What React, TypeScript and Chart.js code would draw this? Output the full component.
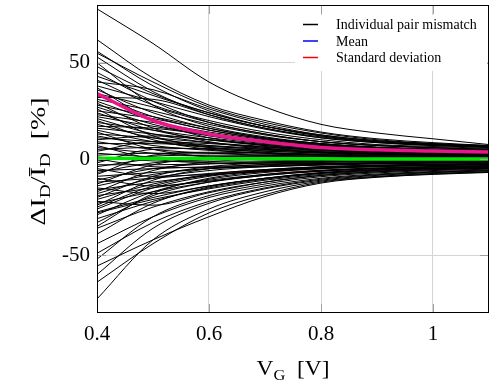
import React, { useEffect, useRef } from 'react';
import { Chart, registerables } from 'chart.js';

Chart.register(...registerables);

// Gate voltage sample points (V)
const xValues = [0.4, 0.5, 0.6, 0.7, 0.8, 0.9, 1.0, 1.1];

// Individual pair mismatch curves (% values at xValues)
const pairCurves: number[][] = [
  [78, 60, 40, 27, 18, 13.5, 10.5, 7.5],
  [62, 42, 28, 20, 14, 10.5, 8.5, 7],
  [56, 38, 25, 17, 12, 9, 7.5, 6.5],
  [55, 40, 27, 19, 13.5, 10, 8, 7],
  [53, 35, 23, 16, 11, 8.5, 7, 6],
  [50, 28, 17, 11.5, 8, 6, 5, 4.3],
  [48, 34, 24, 17, 12.5, 9.5, 8, 6.8],
  [45, 30, 19, 13, 9, 7, 5.8, 5],
  [43, 33, 24, 17, 12, 9, 7.5, 6.5],
  [41, 28, 20, 14, 10, 7.5, 6.5, 5.5],
  [40, 36, 26, 18, 12.5, 9.5, 7.8, 6.6],
  [38, 30, 22, 15.5, 11, 8.5, 7, 6],
  [37, 20, 11, 7, 4.8, 3.6, 3, 2.6],
  [36, 24, 16, 11, 8, 6, 5, 4.5],
  [34, 27, 19, 13, 9, 7, 6, 5],
  [33, 22, 15, 10.5, 7.5, 6, 5, 4.2],
  [32, 31, 23, 16, 11.5, 8.8, 7.3, 6.3],
  [31, 25, 18, 12.5, 9, 7, 5.8, 5],
  [30, 20, 13, 9, 6.5, 5, 4.3, 3.8],
  [29, 16, 9, 5.5, 3.5, 2.5, 2, 1.7],
  [28, 22, 16, 11, 8, 6.2, 5.2, 4.5],
  [27, 18, 12, 8.5, 6, 4.8, 4, 3.5],
  [26, 12, 6, 3.5, 2.2, 1.6, 1.3, 1.1],
  [25, 21, 15, 10.5, 7.5, 6, 5, 4.4],
  [24, 15, 10, 7, 5, 4, 3.4, 3],
  [23, 19, 14, 10, 7, 5.5, 4.6, 4],
  [22, 17, 12.5, 9, 6.5, 5.2, 4.5, 4],
  [21, 13, 8.5, 6, 4.5, 3.6, 3, 2.7],
  [20, 10, 5, 3, 2, 1.5, 1.2, 1],
  [19, 15, 11, 8, 6, 4.8, 4.2, 3.7],
  [18, 11, 7, 5, 3.5, 2.8, 2.4, 2.1],
  [17, 16, 12.5, 9.5, 7, 5.6, 4.8, 4.2],
  [16, 13, 10, 7.5, 5.5, 4.5, 3.8, 3.4],
  [15, 9, 6, 4.2, 3, 2.4, 2, 1.8],
  [14, 5, 1, -0.5, -1, -1.1, -1.1, -1],
  [13, 11, 8.5, 6.5, 5, 4, 3.5, 3.1],
  [12, 7, 4.5, 3, 2.2, 1.7, 1.4, 1.2],
  [11, 9, 7, 5.5, 4.2, 3.5, 3, 2.7],
  [10, 12, 10, 7.5, 5.5, 4.4, 3.8, 3.3],
  [9, 5, 3, 2, 1.5, 1.2, 1, 0.9],
  [8, 8, 6.5, 5, 3.8, 3.2, 2.8, 2.5],
  [7, 0, -2, -2.5, -2.3, -2, -1.8, -1.6],
  [6, 3, 1.5, 0.8, 0.5, 0.4, 0.3, 0.3],
  [5, 6, 5, 4, 3.2, 2.6, 2.2, 2],
  [4, 9, 8, 6.2, 4.7, 3.8, 3.2, 2.8],
  [3, 1, 0, -0.5, -0.6, -0.6, -0.6, -0.5],
  [2, 3, 3, 2.5, 2, 1.6, 1.4, 1.2],
  [1, -1, -1.5, -1.5, -1.3, -1.1, -1, -0.9],
  [0, -4, -4.5, -4, -3.2, -2.6, -2.2, -2],
  [-1, 1.5, 2, 1.8, 1.5, 1.2, 1, 0.9],
  [-2, 5, 5.5, 4.6, 3.6, 2.9, 2.5, 2.2],
  [-3, -3, -2.5, -2, -1.6, -1.3, -1.1, -1],
  [-4, 0, 1, 1, 0.8, 0.7, 0.6, 0.5],
  [-5, -9, -8, -6.5, -5, -4, -3.4, -3],
  [-6, -5, -4, -3, -2.3, -1.9, -1.6, -1.4],
  [-7, -2, -0.5, 0, 0, 0, 0, 0],
  [-8, 2, 3.5, 3.2, 2.6, 2.1, 1.8, 1.6],
  [-9, -7, -5, -3.8, -2.8, -2.2, -1.9, -1.7],
  [-10, -14, -11.5, -8.5, -6.4, -5.1, -4.3, -3.8],
  [-11, -5, -2.5, -1.5, -1, -0.8, -0.7, -0.6],
  [-12, -10, -7.5, -5.5, -4, -3.2, -2.7, -2.4],
  [-13, -3, 0.5, 1.2, 1.2, 1, 0.9, 0.8],
  [-14, -8, -5, -3.5, -2.6, -2, -1.8, -1.6],
  [-15, -18, -14, -10, -7.4, -5.8, -4.9, -4.3],
  [-16, -12, -8.5, -6, -4.5, -3.6, -3, -2.7],
  [-17, -6, -1.5, 0, 0.4, 0.4, 0.4, 0.3],
  [-18, -10, -6, -4, -3, -2.4, -2, -1.8],
  [-19, -15, -11, -8, -6, -4.8, -4, -3.5],
  [-20, -9, -4, -2, -1.2, -0.9, -0.7, -0.6],
  [-21, -13, -8, -5.5, -4, -3.2, -2.7, -2.4],
  [-22, -24, -17.5, -12, -8.6, -6.7, -5.6, -4.9],
  [-23, -17, -12, -8.5, -6.2, -5, -4.2, -3.7],
  [-24, -11, -5, -2.8, -1.8, -1.3, -1.1, -1],
  [-25, -14, -8.5, -6, -4.4, -3.5, -3, -2.6],
  [-26, -15, -9, -6, -4.4, -3.5, -3, -2.6],
  [-27.5, -20, -14, -10, -7.2, -5.6, -4.8, -4.2],
  [-28, -21, -15.5, -11, -8, -6.2, -5.2, -4.6],
  [-29, -17, -10.5, -7, -5, -4, -3.4, -3],
  [-31, -22, -15, -10.5, -7.5, -5.8, -4.9, -4.3],
  [-33, -19, -12, -8, -5.8, -4.6, -3.9, -3.4],
  [-35, -18, -10, -6.5, -4.6, -3.6, -3.1, -2.7],
  [-36, -25, -17, -12, -8.5, -6.6, -5.5, -4.8],
  [-39, -23, -14.5, -10, -7, -5.5, -4.7, -4.1],
  [-44, -30, -20, -14, -10, -7.8, -6.5, -5.7],
  [-49, -33, -22, -15, -10.5, -8.2, -6.8, -6],
  [-52, -30, -19, -13, -9.2, -7.2, -6, -5.3],
  [-55.6, -42, -30, -19.5, -12.5, -9.5, -8, -7],
  [-60, -36, -23, -15.5, -11, -8.5, -7.1, -6.2],
  [-64, -44, -28, -18.5, -12, -9.3, -7.8, -6.8],
  [-72.7, -42, -26, -17, -11.5, -9, -7.5, -6.6],
];

const meanValues = [0.4, 0.3, 0.2, 0.1, 0.1, 0, 0, 0];
const stdValues = [34, 20, 13, 9, 6, 4.8, 4.1, 3.6];

const xTickValues = [0.4, 0.6, 0.8, 1];
const yTickValues = [-50, 0, 50];
const xMin = 0.4;
const xMax = 1.1;
const yMin = -80;
const yMax = 80;

const legendLabels = ['Individual pair mismatch', 'Mean', 'Standard deviation'];
const legendColors = ['#000000', '#0000ff', '#ff0000'];

const FONT = '"Liberation Serif", "Times New Roman", serif';

type Part = { t: string; sub?: boolean };

function drawRich(
  ctx: CanvasRenderingContext2D,
  parts: Part[],
  cx: number,
  cy: number,
  size: number,
  targetLen: number,
  rotated: boolean
) {
  ctx.save();
  ctx.translate(cx, cy);
  if (rotated) ctx.rotate(-Math.PI / 2);
  const subSize = size * 0.7;
  let total = 0;
  const widths = parts.map((p) => {
    ctx.font = `${p.sub ? subSize : size}px ${FONT}`;
    const w = ctx.measureText(p.t).width;
    total += w;
    return w;
  });
  const s = targetLen ? targetLen / total : 1;
  ctx.scale(s, 1);
  ctx.fillStyle = '#000';
  ctx.textAlign = 'left';
  ctx.textBaseline = 'alphabetic';
  const base = size * 0.33;
  let x = -total / 2;
  parts.forEach((p, i) => {
    ctx.font = `${p.sub ? subSize : size}px ${FONT}`;
    ctx.fillText(p.t, x, p.sub ? base + size * 0.22 : base);
    x += widths[i];
  });
  ctx.restore();
}

const decorPlugin = {
  id: 'decor',
  afterDatasetsDraw(chart: any) {
    const { ctx, chartArea: a, scales } = chart;
    ctx.save();
    // inward mirrored tick marks
    ctx.strokeStyle = '#a0a0a0';
    ctx.lineWidth = 1;
    ctx.beginPath();
    xTickValues.forEach((v) => {
      const px = Math.round(scales.x.getPixelForValue(v)) + 0.5;
      ctx.moveTo(px, a.bottom);
      ctx.lineTo(px, a.bottom - 9);
      ctx.moveTo(px, a.top);
      ctx.lineTo(px, a.top + 9);
    });
    yTickValues.forEach((v) => {
      const py = Math.round(scales.y.getPixelForValue(v)) + 0.5;
      ctx.moveTo(a.left, py);
      ctx.lineTo(a.left + 9, py);
      ctx.moveTo(a.right, py);
      ctx.lineTo(a.right - 9, py);
    });
    ctx.stroke();

    // legend
    ctx.fillStyle = '#fff';
    ctx.fillRect(295, 15, 192, 56);
    legendLabels.forEach((label, i) => {
      const y = 24.5 + i * 16.5;
      ctx.strokeStyle = legendColors[i];
      ctx.lineWidth = 1.5;
      ctx.beginPath();
      ctx.moveTo(303, y);
      ctx.lineTo(318, y);
      ctx.stroke();
      ctx.fillStyle = '#000';
      ctx.font = `14px ${FONT}`;
      ctx.textAlign = 'left';
      ctx.textBaseline = 'middle';
      ctx.fillText(label, 336, y + 1);
    });

    // frame
    ctx.strokeStyle = '#000';
    ctx.lineWidth = 1;
    ctx.strokeRect(a.left + 0.5, a.top + 0.5, a.width - 1, a.height - 1);
    ctx.restore();

    // axis titles
    drawRich(
      ctx,
      [{ t: 'ΔI' }, { t: 'D', sub: true }, { t: '/' }, { t: 'Ī' }, { t: 'D', sub: true }, { t: '  [%]' }],
      38,
      161.5,
      21,
      128,
      true
    );
    drawRich(ctx, [{ t: 'V' }, { t: 'G', sub: true }, { t: '  [V]' }], 293, 368, 22, 73, false);
  },
};

export default function App() {
  const canvasRef = useRef<HTMLCanvasElement | null>(null);

  useEffect(() => {
    const canvas = canvasRef.current;
    if (!canvas) return;

    const toPoints = (vals: number[]) => xValues.map((x, i) => ({ x, y: vals[i] }));

    const datasets: any[] = [
      {
        label: 'Mean',
        data: toPoints(meanValues),
        borderColor: '#00e600',
        borderWidth: 3.5,
        pointRadius: 0,
        cubicInterpolationMode: 'monotone',
        order: 0,
      },
      {
        label: 'Standard deviation',
        data: toPoints(stdValues),
        borderColor: '#e8168c',
        borderWidth: 3.5,
        pointRadius: 0,
        cubicInterpolationMode: 'monotone',
        order: 1,
      },
      ...pairCurves.map((c, i) => ({
        label: `Pair ${i + 1}`,
        data: toPoints(c),
        borderColor: '#000000',
        borderWidth: 1,
        pointRadius: 0,
        cubicInterpolationMode: 'monotone',
        order: 2,
      })),
    ];

    const chart = new Chart(canvas, {
      type: 'line',
      data: { datasets },
      options: {
        responsive: false,
        animation: false,
        layout: { padding: { left: 0, right: 0, top: 5, bottom: 0 } },
        plugins: {
          legend: { display: false },
          tooltip: { enabled: false },
        },
        scales: {
          x: {
            type: 'linear',
            min: xMin,
            max: xMax,
            afterBuildTicks: (scale: any) => {
              scale.ticks = xTickValues.map((v) => ({ value: v }));
            },
            afterFit: (scale: any) => {
              scale.height = 71;
              scale.paddingLeft = 0;
              scale.paddingRight = 0;
            },
            grid: { color: '#d4d4d4', drawTicks: false, lineWidth: 1 },
            border: { display: false },
            ticks: {
              padding: 9,
              color: '#000',
              font: { family: FONT, size: 21 },
              maxRotation: 0,
              callback: (v: any) => String(Math.round(Number(v) * 10) / 10),
            },
          },
          y: {
            type: 'linear',
            min: yMin,
            max: yMax,
            afterBuildTicks: (scale: any) => {
              scale.ticks = yTickValues.map((v) => ({ value: v }));
            },
            afterFit: (scale: any) => {
              scale.width = 97;
              scale.paddingTop = 0;
              scale.paddingBottom = 0;
            },
            grid: { color: '#d4d4d4', drawTicks: false, lineWidth: 1 },
            border: { display: false },
            ticks: {
              padding: 7,
              color: '#000',
              font: { family: FONT, size: 21 },
              callback: (v: any) => String(v),
            },
          },
        },
      },
      plugins: [decorPlugin],
    });

    return () => chart.destroy();
  }, []);

  return (
    <div style={{ position: 'absolute', left: 0, top: 0, width: 489, height: 384, background: '#fff' }}>
      <canvas ref={canvasRef} width={489} height={384} style={{ display: 'block' }} />
    </div>
  );
}
